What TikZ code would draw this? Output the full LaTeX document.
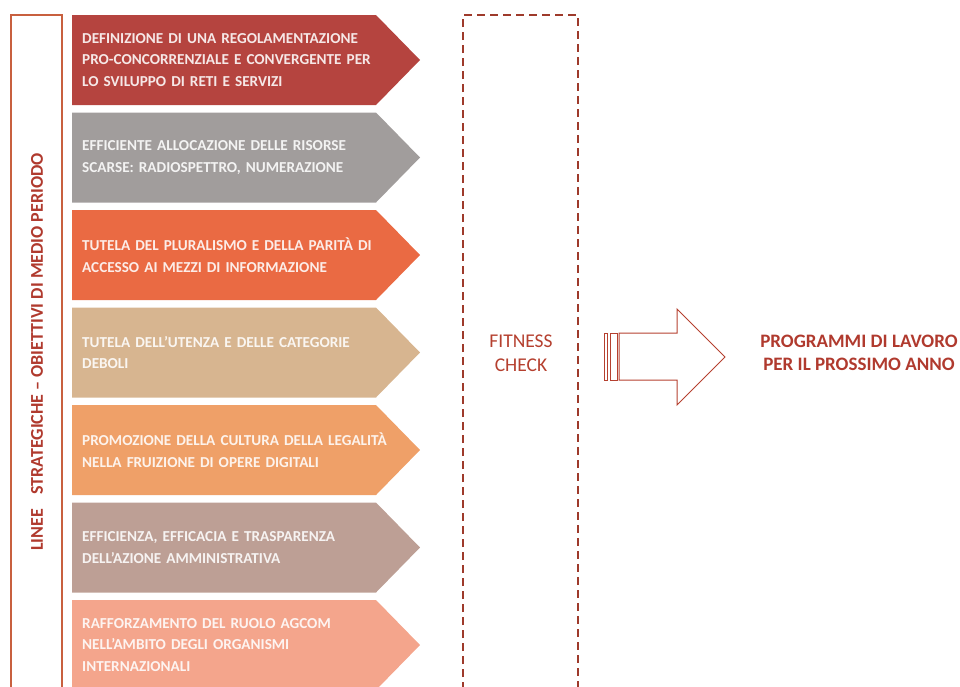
\documentclass[tikz,border=0pt]{standalone}
\usepackage{fontspec}
\setmainfont{Carlito}
\usetikzlibrary{positioning}

\definecolor{lineered}{HTML}{B03A2E}
\definecolor{boxred}{HTML}{C8603F}
\definecolor{dashred}{HTML}{9E3A2B}
\definecolor{arrowred}{HTML}{B5402F}
\definecolor{chevA}{HTML}{B5443F}
\definecolor{chevB}{HTML}{A19D9C}
\definecolor{chevC}{HTML}{EA6A43}
\definecolor{chevD}{HTML}{D7B590}
\definecolor{chevE}{HTML}{EFA068}
\definecolor{chevF}{HTML}{BD9F95}
\definecolor{chevG}{HTML}{F4A58C}

\tikzset{
  chevtext/.style={anchor=west, align=left, text width=330pt, text=white, text opacity=.88,
    font=\fontsize{15.2}{21.5}\selectfont\bfseries, inner sep=0pt},
  redtitle/.style={text=lineered, font=\fontsize{19}{23.5}\selectfont\bfseries, align=center},
}

\begin{document}
\begin{tikzpicture}[x=1pt, y=-1pt]
  \useasboundingbox (0,0) rectangle (960,686);
  % left frame with the vertical title
  \draw[boxred, line width=1.4pt] (11,690) -- (11,15) -- (62,15) -- (62,690);
  \node[redtitle, font=\fontsize{18}{22}\selectfont\bfseries, rotate=90] (linee) at (37,352)
    {LINEE\hspace{0.8em}STRATEGICHE -- OBIETTIVI DI MEDIO PERIODO};
  % chevrons
  \foreach \c/\t [count=\i] in {
    chevA/{DEFINIZIONE DI UNA REGOLAMENTAZIONE\\PRO-CONCORRENZIALE E CONVERGENTE PER\\LO SVILUPPO DI RETI E SERVIZI},
    chevB/{EFFICIENTE ALLOCAZIONE DELLE RISORSE\\SCARSE: RADIOSPETTRO, NUMERAZIONE},
    chevC/{TUTELA DEL PLURALISMO E DELLA PARIT\`A DI\\ACCESSO AI MEZZI DI INFORMAZIONE},
    chevD/{TUTELA DELL'UTENZA E DELLE CATEGORIE\\DEBOLI},
    chevE/{PROMOZIONE DELLA CULTURA DELLA LEGALIT\`A\\NELLA FRUIZIONE DI OPERE DIGITALI},
    chevF/{EFFICIENZA, EFFICACIA E TRASPARENZA\\DELL'AZIONE AMMINISTRATIVA},
    chevG/{RAFFORZAMENTO DEL RUOLO AGCOM\\NELL'AMBITO DEGLI ORGANISMI\\INTERNAZIONALI}} {
    \pgfmathsetmacro\top{15+97.5*(\i-1)}
    \fill[\c] (72,\top) -- (376,\top) -- (420,\top+45) -- (376,\top+90) -- (72,\top+90) -- cycle;
    \node[chevtext] (obj\i) at (82,\top+45) {\t};
  }
  % fitness check
  \draw[dashred, line width=1.8pt, dash pattern=on 8pt off 5pt] (463,690) -- (463,15) -- (578,15) -- (578,690);
  \node[text=arrowred, font=\fontsize{19.5}{23.5}\selectfont, align=center] (fitness) at (521,353) {FITNESS\\CHECK};
  % hollow arrow
  \draw[arrowred, line width=1pt] (604,333) rectangle (607.5,380);
  \draw[arrowred, line width=1pt] (610,333) rectangle (617,380);
  \draw[arrowred, line width=1pt, line join=miter]
    (619,333) -- (677,333) -- (677,309) -- (725,357) -- (677,405) -- (677,380) -- (619,380) -- cycle;
  \node[redtitle] (programmi) at (859,353) {PROGRAMMI DI LAVORO\\PER IL PROSSIMO ANNO};
\end{tikzpicture}
\end{document}
